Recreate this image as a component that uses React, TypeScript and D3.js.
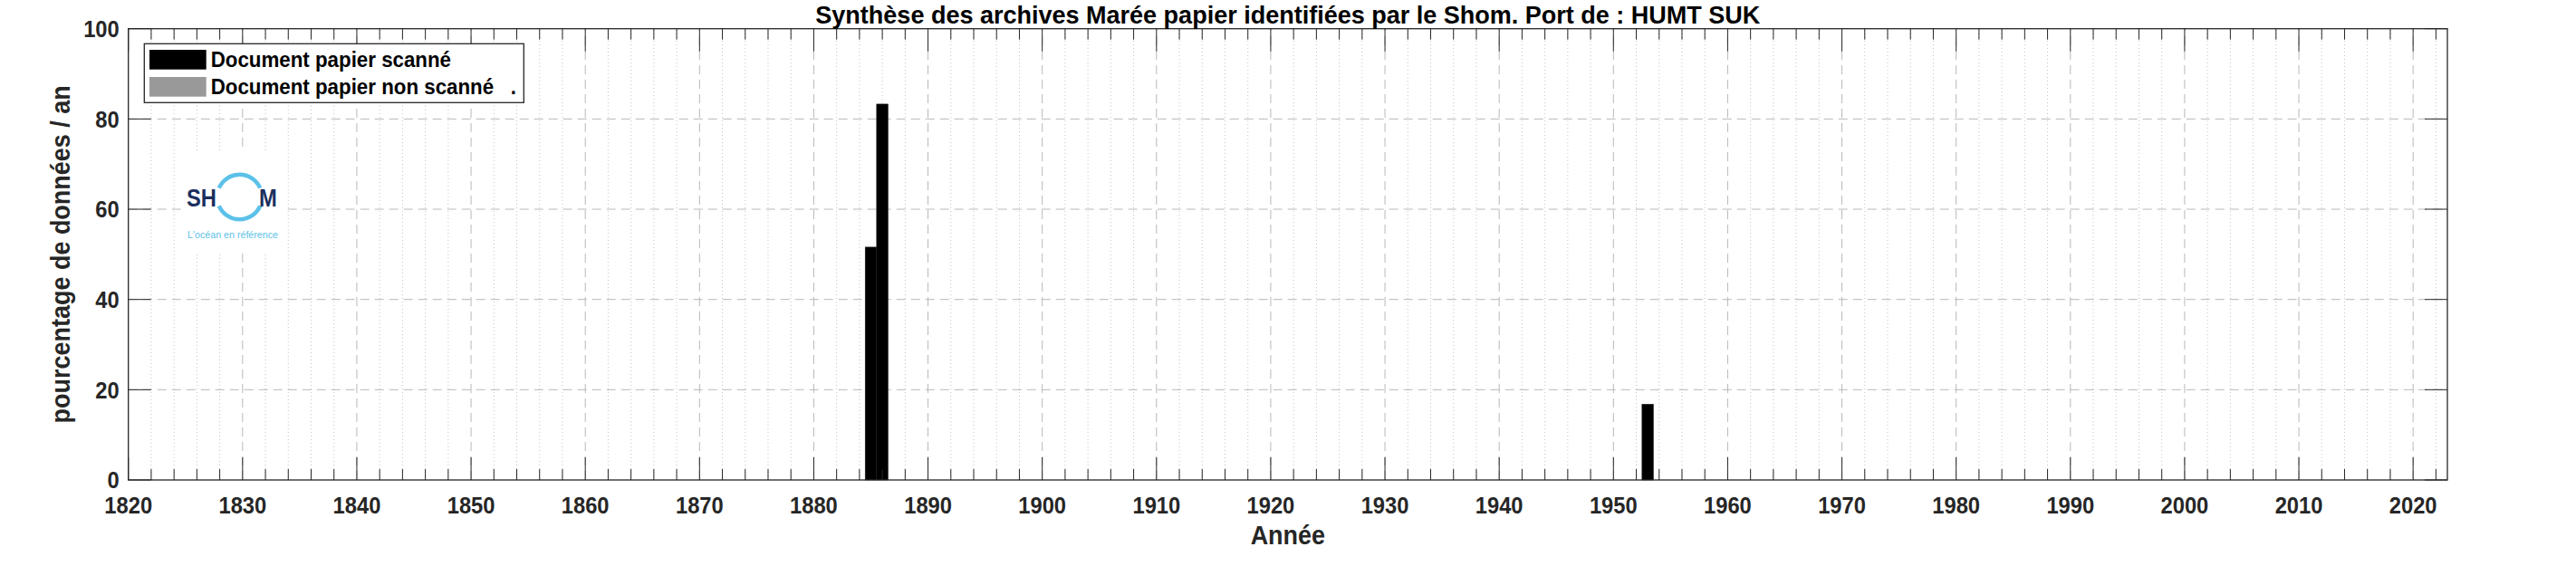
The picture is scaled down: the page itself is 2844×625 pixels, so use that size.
import React from "react"
import * as d3 from "d3"

const years = [1885, 1886, 1953]
const scanned = [51.6, 83.3, 16.8]
const nonScanned = [0, 0, 0]

const xTicks = [1820, 1830, 1840, 1850, 1860, 1870, 1880, 1890, 1900, 1910, 1920, 1930, 1940, 1950, 1960, 1970, 1980, 1990, 2000, 2010, 2020]
const yTicks = [0, 20, 40, 60, 80, 100]
const xDomain = [1820, 2023]

const title = "Synthèse des archives Marée papier identifiées par le Shom. Port de : HUMT SUK"
const xLabel = "Année"
const yLabel = "pourcentage de données / an"
const legendLabels = ["Document papier scanné", "Document papier non scanné   ."]

const W = 2844
const H = 625
const margin = { top: 31.7, right: W - 2702, bottom: H - 530, left: 141.7 }
const FONT = "'Liberation Sans', Arial, Helvetica, sans-serif"
const AX = "#262626"

// the source renders its text a bit narrow, so squeeze horizontally
function Txt(props: {
  x: number
  y: number
  size: number
  anchor?: string
  fill?: string
  sx?: number
  rotate?: number
  dy?: string
  children: React.ReactNode
}) {
  const { x, y, size, anchor = "start", fill = AX, sx = 0.93, rotate = 0, dy } = props
  return (
    <g transform={`translate(${x},${y}) rotate(${rotate}) scale(${sx},1)`}>
      <text textAnchor={anchor} fontSize={size} fontWeight="bold" fill={fill} dy={dy} style={{ whiteSpace: "pre" }}>
        {props.children}
      </text>
    </g>
  )
}

export default function App() {
  const x = d3.scaleLinear().domain(xDomain).range([margin.left, W - margin.right])
  const y = d3.scaleLinear().domain([0, 100]).range([H - margin.bottom, margin.top])
  const [x0, x1] = x.range()
  const [yb, yt] = y.range()

  // minor every 2 years, skipping the decades
  const minor = d3.range(1822, 2023, 2).filter((v) => v % 10 !== 0)
  const barW = x(1) - x(0)
  const ring = d3.arc()

  return (
    <svg width={W} height={H} style={{ position: "absolute", left: 0, top: 0, background: "#fff" }} fontFamily={FONT}>
      <rect x={0} y={0} width={W} height={H} fill="#fff" />

      {/* grid */}
      <g>
        {minor.map((v) => (
          <line key={"mg" + v} x1={x(v)} x2={x(v)} y1={yb} y2={yt} stroke="#c4c4c4" strokeWidth={1} strokeDasharray="1,3" />
        ))}
        {xTicks.slice(1).map((v) => (
          <line key={"vg" + v} x1={x(v)} x2={x(v)} y1={yb} y2={yt} stroke="#b8b8b8" strokeWidth={1} strokeDasharray="10,6" />
        ))}
        {yTicks.slice(1, -1).map((v) => (
          <line key={"hg" + v} x1={x0} x2={x1} y1={y(v)} y2={y(v)} stroke="#b8b8b8" strokeWidth={1} strokeDasharray="10,6" />
        ))}
      </g>

      {/* SHOM logo */}
      <g>
        <rect x={200} y={167} width={112} height={113} fill="#fff" />
        <path
          d={ring({ innerRadius: 22.5, outerRadius: 27, startAngle: -Math.PI * 0.37, endAngle: Math.PI * 0.37 }) || ""}
          transform="translate(264.5,217.5)"
          fill="#5cc1e8"
        />
        <path
          d={ring({ innerRadius: 22.5, outerRadius: 27, startAngle: Math.PI * 0.63, endAngle: Math.PI * 1.37 }) || ""}
          transform="translate(264.5,217.5)"
          fill="#5cc1e8"
        />
        <Txt x={206} y={227.5} size={27} fill="#1b2f5e" sx={0.88}>SH</Txt>
        <Txt x={286} y={227.5} size={27} fill="#1b2f5e" sx={0.88}>M</Txt>
        <text x={207} y={263} fontSize={11} fill="#5cc1e8" textLength={100} lengthAdjust="spacingAndGlyphs">
          L'océan en référence
        </text>
      </g>

      {/* bars */}
      <g>
        {years.map((yr, i) => (
          <g key={"b" + yr}>
            <rect x={x(yr - 0.5)} y={y(scanned[i])} width={barW} height={y(0) - y(scanned[i])} fill="#000" stroke="#1a1a1a" strokeWidth={0.5} />
            {nonScanned[i] > 0 && (
              <rect
                x={x(yr - 0.5)}
                y={y(scanned[i] + nonScanned[i])}
                width={barW}
                height={y(scanned[i]) - y(scanned[i] + nonScanned[i])}
                fill="#999999"
              />
            )}
          </g>
        ))}
      </g>

      {/* ticks */}
      <g stroke={AX} strokeWidth={1}>
        {xTicks.map((v) => (
          <g key={"xt" + v}>
            <line x1={x(v)} x2={x(v)} y1={yb} y2={yb - 25} />
            <line x1={x(v)} x2={x(v)} y1={yt} y2={yt + 25} />
          </g>
        ))}
        {minor.map((v) => (
          <g key={"xm" + v}>
            <line x1={x(v)} x2={x(v)} y1={yb} y2={yb - 12} />
            <line x1={x(v)} x2={x(v)} y1={yt} y2={yt + 12} />
          </g>
        ))}
        {yTicks.map((v) => (
          <g key={"yt" + v}>
            <line x1={x0} x2={x0 + 25} y1={y(v)} y2={y(v)} />
            <line x1={x1} x2={x1 - 25} y1={y(v)} y2={y(v)} />
          </g>
        ))}
      </g>

      <rect x={x0} y={yt} width={x1 - x0} height={yb - yt} fill="none" stroke={AX} strokeWidth={1.3} />

      {/* tick labels */}
      {xTicks.map((v) => (
        <Txt key={"xl" + v} x={x(v)} y={567} size={25.5} anchor="middle">
          {v}
        </Txt>
      ))}
      {yTicks.map((v) => (
        <Txt key={"yl" + v} x={x0 - 10} y={y(v)} size={25.5} anchor="end" dy="0.36em">
          {v}
        </Txt>
      ))}

      {/* labels */}
      <Txt x={(x0 + x1) / 2} y={26} size={28} anchor="middle" fill="#000" sx={0.965}>
        {title}
      </Txt>
      <Txt x={(x0 + x1) / 2} y={601} size={29} anchor="middle">
        {xLabel}
      </Txt>
      <Txt x={77} y={(yb + yt) / 2} size={29} anchor="middle" rotate={-90}>
        {yLabel}
      </Txt>

      {/* legend */}
      <g>
        <rect x={159.3} y={48.3} width={419} height={65} fill="#fff" stroke={AX} strokeWidth={1.3} />
        <rect x={165} y={55} width={62.7} height={21.7} fill="#000" />
        <rect x={165} y={85} width={62.7} height={21.7} fill="#999999" />
        <Txt x={232.7} y={74} size={23.5} fill="#000" sx={0.95}>
          {legendLabels[0]}
        </Txt>
        <Txt x={232.7} y={104} size={23.5} fill="#000" sx={0.95}>
          {legendLabels[1]}
        </Txt>
      </g>
    </svg>
  )
}
